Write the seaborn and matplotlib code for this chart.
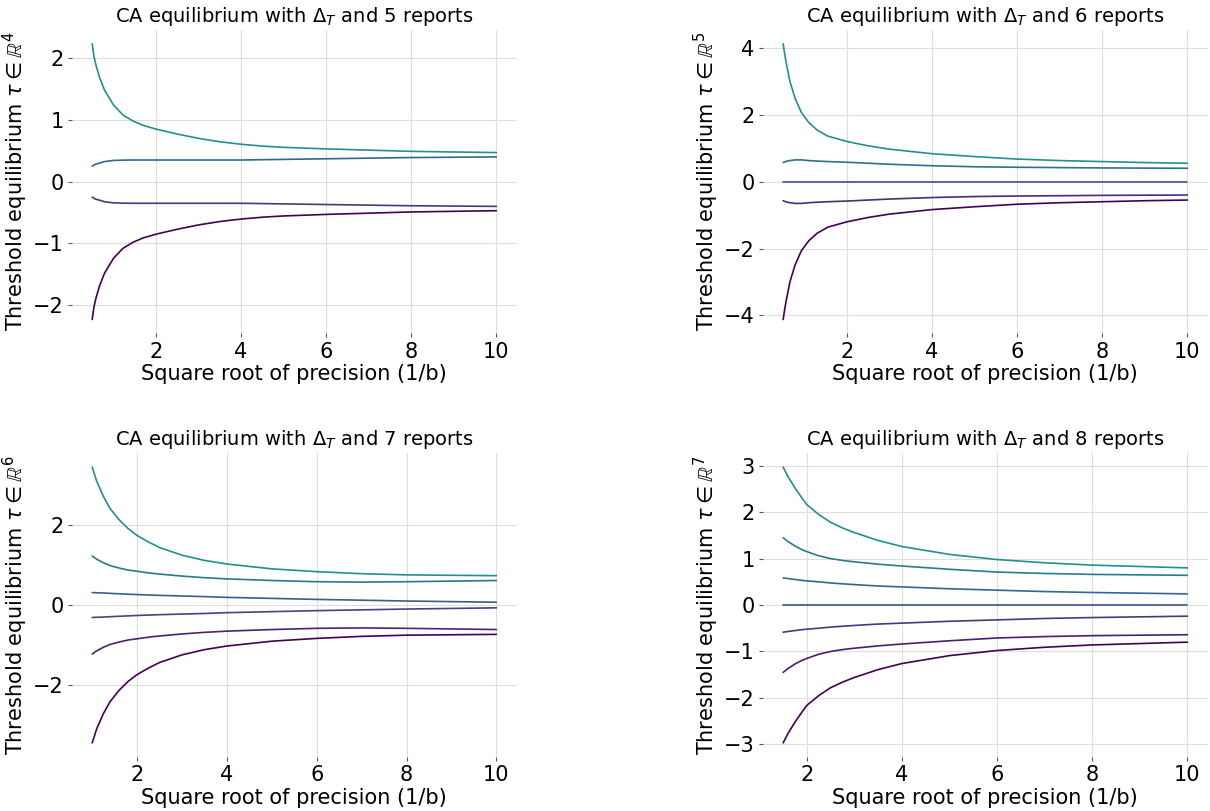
import numpy as np
import pandas as pd
import matplotlib
matplotlib.use("Agg")
import matplotlib.pyplot as plt
import seaborn as sns

# --- 5 reports (4 thresholds) ---
x_5 = [0.5, 0.54, 0.59, 0.67, 0.79, 1.0, 1.22, 1.46, 1.7, 2, 2.5, 3, 3.5, 4, 4.5, 5, 6, 7, 8, 9, 10]
tau_5 = [
    [-2.23, -2.03, -1.88, -1.69, -1.48, -1.24, -1.08, -0.98, -0.91, -0.85, -0.77, -0.70, -0.645, -0.605, -0.575, -0.555, -0.53, -0.51, -0.49, -0.48, -0.47],
    [-0.25, -0.27, -0.285, -0.30, -0.325, -0.343, -0.348, -0.35, -0.35, -0.35, -0.35, -0.35, -0.35, -0.35, -0.355, -0.36, -0.37, -0.38, -0.39, -0.395, -0.40],
    [0.25, 0.27, 0.285, 0.30, 0.325, 0.343, 0.348, 0.35, 0.35, 0.35, 0.35, 0.35, 0.35, 0.35, 0.355, 0.36, 0.37, 0.38, 0.39, 0.395, 0.40],
    [2.23, 2.03, 1.88, 1.69, 1.48, 1.24, 1.08, 0.98, 0.91, 0.85, 0.77, 0.70, 0.645, 0.605, 0.575, 0.555, 0.53, 0.51, 0.49, 0.48, 0.47],
]

# --- 6 reports (5 thresholds) ---
x_6 = [0.5, 0.54, 0.58, 0.66, 0.78, 0.93, 1.1, 1.3, 1.55, 2, 2.5, 3, 4, 5, 6, 7, 8, 9, 10]
tau_6 = [
    [-4.12, -3.78, -3.50, -2.99, -2.49, -2.06, -1.77, -1.54, -1.36, -1.20, -1.07, -0.97, -0.835, -0.75, -0.675, -0.63, -0.60, -0.57, -0.55],
    [-0.57, -0.59, -0.61, -0.63, -0.65, -0.65, -0.63, -0.615, -0.60, -0.58, -0.55, -0.52, -0.475, -0.445, -0.43, -0.42, -0.41, -0.405, -0.40],
    [0, 0, 0, 0, 0, 0, 0, 0, 0, 0, 0, 0, 0, 0, 0, 0, 0, 0, 0],
    [0.57, 0.59, 0.61, 0.63, 0.65, 0.65, 0.63, 0.615, 0.60, 0.58, 0.55, 0.52, 0.475, 0.445, 0.43, 0.42, 0.41, 0.405, 0.40],
    [4.12, 3.78, 3.50, 2.99, 2.49, 2.06, 1.77, 1.54, 1.36, 1.20, 1.07, 0.97, 0.835, 0.75, 0.675, 0.63, 0.60, 0.57, 0.55],
]

# --- 7 reports (6 thresholds) ---
x_7 = [1, 1.1, 1.25, 1.4, 1.6, 1.8, 2, 2.25, 2.5, 3, 3.5, 4, 5, 6, 7, 8, 9, 10]
tau_7 = [
    [-3.43, -3.08, -2.70, -2.40, -2.12, -1.90, -1.73, -1.57, -1.43, -1.24, -1.11, -1.02, -0.90, -0.83, -0.78, -0.75, -0.74, -0.73],
    [-1.22, -1.14, -1.05, -0.98, -0.92, -0.87, -0.84, -0.80, -0.77, -0.72, -0.68, -0.65, -0.61, -0.58, -0.57, -0.58, -0.595, -0.61],
    [-0.31, -0.305, -0.30, -0.29, -0.28, -0.27, -0.26, -0.25, -0.24, -0.225, -0.21, -0.19, -0.165, -0.14, -0.12, -0.10, -0.085, -0.07],
    [0.31, 0.305, 0.30, 0.29, 0.28, 0.27, 0.26, 0.25, 0.24, 0.225, 0.21, 0.19, 0.165, 0.14, 0.12, 0.10, 0.085, 0.07],
    [1.22, 1.14, 1.05, 0.98, 0.92, 0.87, 0.84, 0.80, 0.77, 0.72, 0.68, 0.65, 0.61, 0.58, 0.57, 0.58, 0.595, 0.61],
    [3.43, 3.08, 2.70, 2.40, 2.12, 1.90, 1.73, 1.57, 1.43, 1.24, 1.11, 1.02, 0.90, 0.83, 0.78, 0.75, 0.74, 0.73],
]

# --- 8 reports (7 thresholds) ---
x_8 = [1.5, 1.6, 1.75, 1.9, 2, 2.25, 2.5, 2.75, 3, 3.5, 4, 5, 6, 7, 8, 9, 10]
tau_8 = [
    [-2.97, -2.77, -2.52, -2.30, -2.16, -1.95, -1.78, -1.66, -1.56, -1.39, -1.26, -1.09, -0.98, -0.91, -0.86, -0.83, -0.80],
    [-1.45, -1.37, -1.27, -1.19, -1.15, -1.06, -1.00, -0.96, -0.93, -0.88, -0.84, -0.77, -0.71, -0.68, -0.66, -0.65, -0.64],
    [-0.585, -0.57, -0.55, -0.53, -0.52, -0.50, -0.475, -0.457, -0.44, -0.41, -0.39, -0.35, -0.32, -0.29, -0.27, -0.255, -0.24],
    [0, 0, 0, 0, 0, 0, 0, 0, 0, 0, 0, 0, 0, 0, 0, 0, 0],
    [0.585, 0.57, 0.55, 0.53, 0.52, 0.50, 0.475, 0.457, 0.44, 0.41, 0.39, 0.35, 0.32, 0.29, 0.27, 0.255, 0.24],
    [1.45, 1.37, 1.27, 1.19, 1.15, 1.06, 1.00, 0.96, 0.93, 0.88, 0.84, 0.77, 0.71, 0.68, 0.66, 0.65, 0.64],
    [2.97, 2.77, 2.52, 2.30, 2.16, 1.95, 1.78, 1.66, 1.56, 1.39, 1.26, 1.09, 0.98, 0.91, 0.86, 0.83, 0.80],
]

reports = [5, 6, 7, 8]
xs = [x_5, x_6, x_7, x_8]
taus = [tau_5, tau_6, tau_7, tau_8]

sns.set_style("whitegrid", {"grid.color": "0.87", "axes.edgecolor": "white",
                            "text.color": "black", "axes.labelcolor": "black"})
plt.rcParams["font.family"] = ["DejaVu Sans"]

fig, axes = plt.subplots(2, 2, figsize=(12.1, 8.11), dpi=100)
fig.subplots_adjust(left=0.0595, right=0.998, top=0.963, bottom=0.067,
                    wspace=0.554, hspace=0.396)

for ax, n_rep, x, tau in zip(axes.flat, reports, xs, taus):
    n_thr = len(tau)
    df = pd.DataFrame({
        "x": np.tile(x, n_thr),
        "tau": np.concatenate(tau),
        "k": np.repeat(np.arange(n_thr), len(x)),
    })
    pal = [plt.cm.viridis(v) for v in np.linspace(0, 0.5, n_thr)]
    sns.lineplot(data=df, x="x", y="tau", hue="k", palette=pal,
                 linewidth=1.2, legend=False, ax=ax)
    sns.despine(ax=ax, left=True, bottom=True)
    ax.set_title(r"CA equilibrium with $\Delta_T$ and %d reports" % n_rep,
                 fontsize=14, color="black")
    ax.set_xlabel("Square root of precision (1/b)", fontsize=15, labelpad=2)
    ax.set_ylabel(r"Threshold equilibrium $\tau \in \mathbb{R}^%d$" % n_thr,
                  fontsize=15, labelpad=2)
    ax.tick_params(axis="both", left=True, bottom=True, labelsize=15, length=3,
                   width=0.8, color="0.35", labelcolor="black", pad=3)
    ax.grid(True, linewidth=0.8)

fig.savefig("out.png", dpi=100)
